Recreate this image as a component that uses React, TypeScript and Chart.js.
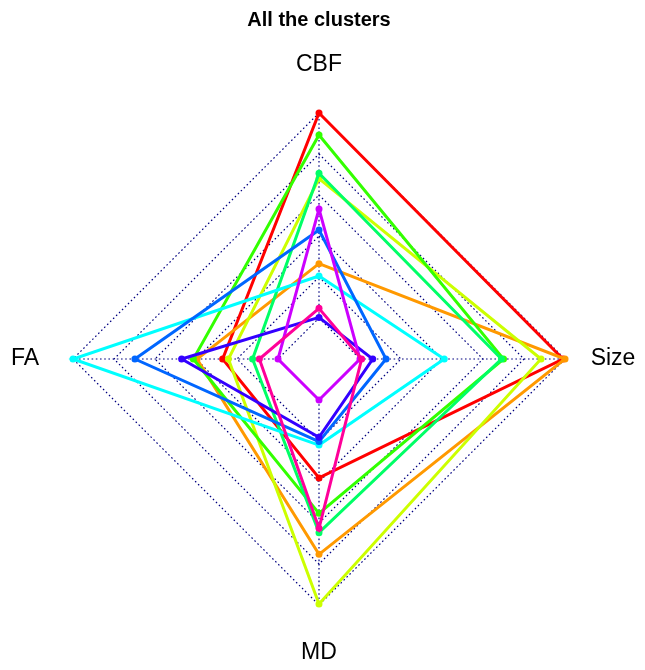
import React, { useEffect, useRef } from "react";
import { Chart, registerables } from "chart.js";

Chart.register(...registerables);

const chartTitle = "All the clusters";
const axisLabels = ["CBF", "Size", "MD", "FA"];
const clusterNames = ["C1", "C2", "C3", "C4", "C5", "C6", "C7", "C8", "C9", "C10"];
const clusterColors = [
  "#FF0000",
  "#FF9900",
  "#CCFF00",
  "#33FF00",
  "#00FF66",
  "#00FFFF",
  "#0066FF",
  "#3300FF",
  "#CC00FF",
  "#FF0099",
];

// values per axis: CBF, Size, MD, FA (scaled 0..100)
const cluster1 = [100, 99, 38, 27];
const cluster2 = [26.5, 100, 75.3, 39.5];
const cluster3 = [68, 88.3, 99.5, 24.2];
const cluster4 = [89.3, 70, 55.3, 41.3];
const cluster5 = [70.6, 69, 64.7, 12.4];
const cluster6 = [20.5, 41.1, 22, 100];
const cluster7 = [42.9, 12.7, 20.3, 69.8];
const cluster8 = [0.3, 6.2, 18.2, 47];
const cluster9 = [53.2, 0, 0, 0];
const cluster10 = [4.7, 0.8, 62.6, 9.1];

const clusterValues = [
  cluster1, cluster2, cluster3, cluster4, cluster5,
  cluster6, cluster7, cluster8, cluster9, cluster10,
];

const scaleMin = -20;
const scaleMax = 100;
const scaleStep = 20;
const axisStart = 0;

const gridColor = "#000080";
const gridDash = [1.6, 2.6];

const radarDecor = {
  id: "radarDecor",
  beforeDatasetsDraw(chart: any) {
    const scale = chart.scales.r;
    const ctx = chart.ctx;
    ctx.save();
    ctx.strokeStyle = gridColor;
    ctx.lineWidth = 1.2;
    ctx.setLineDash(gridDash);
    for (let i = 0; i < axisLabels.length; i++) {
      const p0 = scale.getPointPositionForValue(i, axisStart);
      const p1 = scale.getPointPositionForValue(i, scaleMax);
      ctx.beginPath();
      ctx.moveTo(p0.x, p0.y);
      ctx.lineTo(p1.x, p1.y);
      ctx.stroke();
    }
    ctx.restore();
  },
  afterDraw(chart: any) {
    const scale = chart.scales.r;
    const ctx = chart.ctx;
    ctx.save();
    ctx.fillStyle = "#000000";
    ctx.font = '23px "Liberation Sans", Arial, sans-serif';
    ctx.textAlign = "center";
    ctx.textBaseline = "middle";
    for (let i = 0; i < axisLabels.length; i++) {
      const p = scale.getPointPosition(i, scale.drawingArea + 48);
      ctx.fillText(axisLabels[i], p.x, p.y);
    }
    ctx.restore();
  },
};

export default function App() {
  const canvasRef = useRef<HTMLCanvasElement | null>(null);

  useEffect(() => {
    if (!canvasRef.current) return;
    const datasets = clusterValues.map((vals, i) => ({
      label: clusterNames[i],
      data: vals,
      borderColor: clusterColors[i],
      backgroundColor: clusterColors[i],
      pointBackgroundColor: clusterColors[i],
      pointBorderColor: clusterColors[i],
      pointRadius: 3.5,
      pointBorderWidth: 0,
      borderWidth: 3,
      fill: false,
      order: clusterValues.length - i,
    }));
    const chart = new Chart(canvasRef.current, {
      type: "radar",
      data: { labels: axisLabels, datasets },
      plugins: [radarDecor],
      options: {
        animation: false,
        responsive: true,
        maintainAspectRatio: false,
        layout: { padding: { left: 73, right: 80, top: 0, bottom: 65 } },
        elements: { line: { tension: 0 } },
        plugins: {
          legend: { display: false },
          tooltip: { enabled: false },
          title: {
            display: true,
            text: chartTitle,
            color: "#000000",
            font: { family: '"Liberation Sans", Arial, sans-serif', size: 20, weight: "bold", lineHeight: 1.2 },
            padding: { top: 8, bottom: 81 },
          },
        },
        scales: {
          r: {
            min: scaleMin,
            max: scaleMax,
            ticks: { display: false, stepSize: scaleStep },
            grid: { display: true, circular: false, color: gridColor, lineWidth: 1.2 },
            border: { dash: gridDash },
            angleLines: { display: false },
            pointLabels: { display: false },
          },
        },
      },
    } as any);
    return () => chart.destroy();
  }, []);

  return (
    <div style={{ position: "absolute", left: 0, top: 0, width: 645, height: 670, background: "#fff" }}>
      <canvas ref={canvasRef} />
    </div>
  );
}
